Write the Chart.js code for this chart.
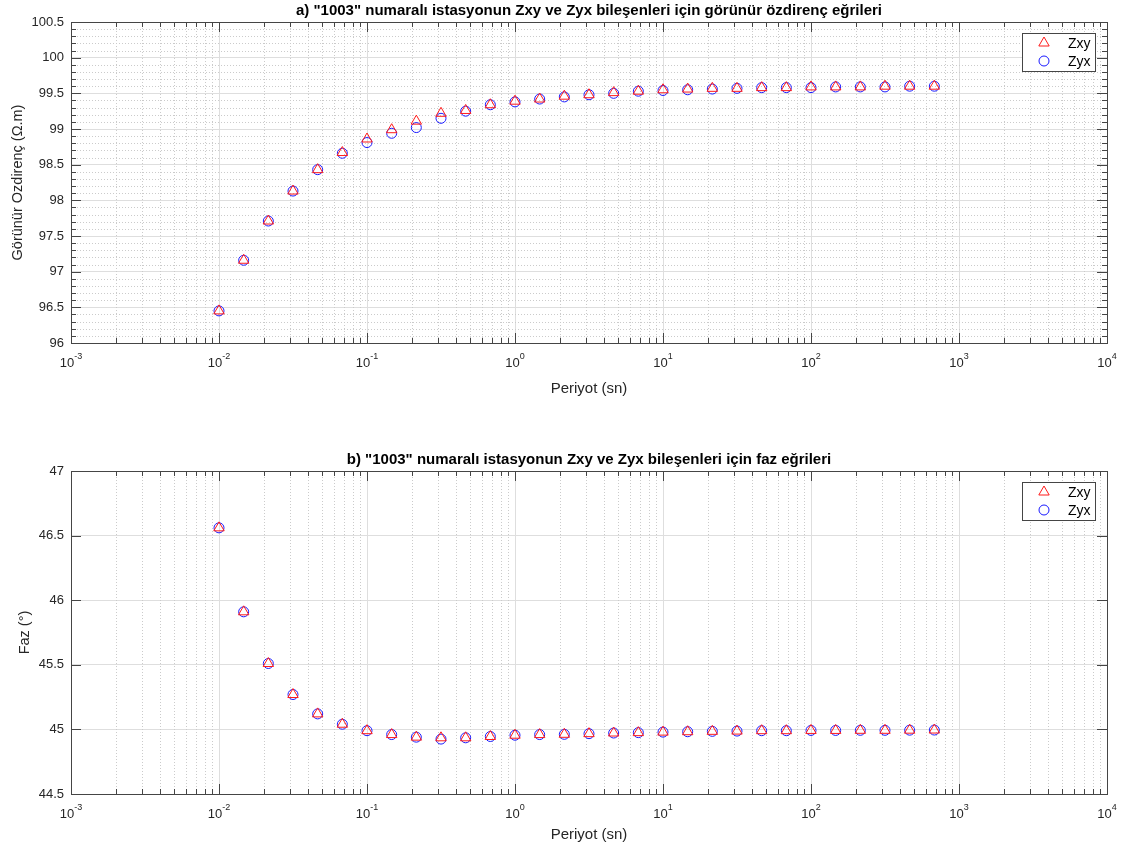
<!DOCTYPE html>
<html lang="tr">
<head>
<meta charset="utf-8">
<title>1003 istasyonu - görünür özdirenç ve faz eğrileri</title>
<script src="https://cdn.jsdelivr.net/npm/chart.js@4.4.1/dist/chart.umd.min.js"></script>
<style>
    html, body { margin: 0; padding: 0; background: #fff; }
    #sayfa { position: relative; width: 1135px; height: 850px; overflow: hidden; }
    .grafik { position: absolute; left: 0; width: 1135px; }
    #g1 { top: 0; height: 400px; }
    #g2 { top: 420px; height: 430px; }
</style>
</head>
<body>
<div id="sayfa">
    <div class="grafik" id="g1"><canvas id="chartOzdirenc"></canvas></div>
    <div class="grafik" id="g2"><canvas id="chartFaz"></canvas></div>
</div>
<script>
// ---- veriler ----
// periyot (sn)
const periyot = [0.01, 0.01468, 0.02154, 0.03162, 0.04642, 0.06813, 0.1, 0.1468, 0.2154, 0.3162,
                 0.4642, 0.6813, 1, 1.468, 2.154, 3.162, 4.642, 6.813, 10, 14.68,
                 21.54, 31.62, 46.42, 68.13, 100, 146.8, 215.4, 316.2, 464.2, 681.3];

// görünür özdirenç (ohm.m)
const rhoZxy = [96.45, 97.16, 97.71, 98.13, 98.43, 98.67, 98.86, 98.99, 99.11, 99.22,
                99.26, 99.34, 99.39, 99.42, 99.46, 99.48, 99.51, 99.53, 99.55, 99.56,
                99.57, 99.57, 99.58, 99.58, 99.59, 99.59, 99.59, 99.60, 99.60, 99.60];
const rhoZyx = [96.45, 97.16, 97.71, 98.13, 98.43, 98.66, 98.81, 98.94, 99.02, 99.15,
                99.25, 99.34, 99.38, 99.42, 99.45, 99.48, 99.50, 99.53, 99.54, 99.55,
                99.56, 99.57, 99.58, 99.58, 99.58, 99.59, 99.59, 99.59, 99.60, 99.60];

// faz (derece)
const fazZxy = [46.56, 45.91, 45.51, 45.27, 45.12, 45.04, 44.99, 44.96, 44.94, 44.935,
                44.935, 44.945, 44.955, 44.96, 44.962, 44.967, 44.972, 44.975, 44.979, 44.982,
                44.985, 44.987, 44.99, 44.99, 44.992, 44.992, 44.993, 44.993, 44.994, 44.995];
const fazZyx = [46.56, 45.91, 45.51, 45.27, 45.12, 45.04, 44.99, 44.96, 44.94, 44.925,
                44.935, 44.945, 44.955, 44.96, 44.962, 44.967, 44.972, 44.975, 44.979, 44.982,
                44.985, 44.987, 44.99, 44.99, 44.992, 44.992, 44.993, 44.993, 44.994, 44.995];

// x ekseni etiketleri: 10 tabanı ve üsleri
const xUsler = [-3, -2, -1, 0, 1, 2, 3, 4];
const xUsEtiket = ['-3', '-2', '-1', '0', '1', '2', '3', '4'];

const FONT = "'Liberation Sans', Arial, Helvetica, sans-serif";
const EKSEN = '#262626';
const CERCEVE = '#454545';
const ANA_IZGARA = '#dedede';
const ARA_IZGARA = '#cbcbcb';

Chart.defaults.font.family = FONT;
Chart.defaults.color = EKSEN;

function onunKuvveti(v) {
    const l = Math.log10(v);
    return Math.abs(l - Math.round(l)) < 1e-6;
}

// noktalı ara ızgara, çerçeve, içe dönük çentikler ve 10^n etiketleri
const eksenKutusu = {
    id: 'eksenKutusu',
    beforeDatasetsDraw(chart, args, opts) {
        const { ctx, chartArea: a, scales: { x, y } } = chart;
        const xAra = [];
        for (let e = Math.round(Math.log10(x.min)); e < Math.round(Math.log10(x.max)); e++) {
            for (let m = 2; m <= 9; m++) xAra.push(m * Math.pow(10, e));
        }
        const yAra = [];
        if (opts.yAra) {
            for (let v = y.min + opts.yAra; v < y.max - 1e-6; v += opts.yAra) {
                if (Math.abs(v * 2 - Math.round(v * 2)) > 1e-6) yAra.push(v);
            }
        }
        ctx.save();
        ctx.strokeStyle = ARA_IZGARA;
        ctx.lineWidth = 1;
        ctx.setLineDash([1, 2]);
        ctx.beginPath();
        xAra.forEach(v => {
            const px = Math.round(x.getPixelForValue(v)) + 0.5;
            ctx.moveTo(px, a.top); ctx.lineTo(px, a.bottom);
        });
        yAra.forEach(v => {
            const py = Math.round(y.getPixelForValue(v)) + 0.5;
            ctx.moveTo(a.left, py); ctx.lineTo(a.right, py);
        });
        ctx.stroke();
        ctx.setLineDash([]);

        // çentikler
        ctx.strokeStyle = CERCEVE;
        ctx.beginPath();
        const xCentik = (px, len) => {
            ctx.moveTo(px, a.bottom); ctx.lineTo(px, a.bottom - len);
            ctx.moveTo(px, a.top); ctx.lineTo(px, a.top + len);
        };
        const yCentik = (py, len) => {
            ctx.moveTo(a.left, py); ctx.lineTo(a.left + len, py);
            ctx.moveTo(a.right, py); ctx.lineTo(a.right - len, py);
        };
        xUsler.forEach(u => xCentik(Math.round(x.getPixelForValue(Math.pow(10, u))) + 0.5, 10));
        xAra.forEach(v => xCentik(Math.round(x.getPixelForValue(v)) + 0.5, 5));
        y.ticks.forEach(t => yCentik(Math.round(y.getPixelForValue(t.value)) + 0.5, 10));
        yAra.forEach(v => yCentik(Math.round(y.getPixelForValue(v)) + 0.5, 5));
        ctx.stroke();

        ctx.strokeRect(Math.round(a.left) + 0.5, Math.round(a.top) + 0.5,
                       Math.round(a.right - a.left), Math.round(a.bottom - a.top));

        // x etiketleri: "10" ve üst simge
        ctx.fillStyle = EKSEN;
        ctx.textBaseline = 'alphabetic';
        ctx.textAlign = 'left';
        const tabanFont = '13px ' + FONT;
        const usFont = '9px ' + FONT;
        xUsler.forEach((u, i) => {
            const px = x.getPixelForValue(Math.pow(10, u));
            ctx.font = tabanFont;
            const w1 = ctx.measureText('10').width;
            ctx.font = usFont;
            const w2 = ctx.measureText(xUsEtiket[i]).width;
            const x0 = px - (w1 + w2) / 2;
            ctx.font = tabanFont;
            ctx.fillText('10', x0, a.bottom + 24);
            ctx.font = usFont;
            ctx.fillText(xUsEtiket[i], x0 + w1, a.bottom + 16);
        });
        ctx.restore();
    }
};

// sağ üst köşedeki çerçeveli lejant
const kutuLejant = {
    id: 'kutuLejant',
    afterDatasetsDraw(chart) {
        const { ctx, chartArea: a } = chart;
        const w = 73, h = 38;
        const x0 = Math.round(a.right) - 12 - w;
        const y0 = Math.round(a.top) + 11;
        ctx.save();
        ctx.fillStyle = '#fff';
        ctx.fillRect(x0, y0, w, h);
        ctx.strokeStyle = CERCEVE;
        ctx.lineWidth = 1;
        ctx.strokeRect(x0 + 0.5, y0 + 0.5, w, h);
        chart.data.datasets.forEach((ds, i) => {
            const cy = y0 + 10 + i * 18;
            ctx.strokeStyle = ds.borderColor;
            ctx.fillStyle = 'rgba(0,0,0,0)';
            ctx.lineWidth = 1;
            Chart.helpers.drawPoint(ctx, { pointStyle: ds.pointStyle, radius: ds.pointRadius, rotation: 0, borderWidth: 1 }, x0 + 22, cy);
            ctx.fillStyle = '#000';
            ctx.font = '14px ' + FONT;
            ctx.textBaseline = 'middle';
            ctx.textAlign = 'left';
            ctx.fillText(ds.label, x0 + 46, cy + 1);
        });
        ctx.restore();
    }
};

function grafikCiz(canvasId, baslik, yBaslik, zxy, zyx, ay) {
    const ctx = document.getElementById(canvasId).getContext('2d');
    return new Chart(ctx, {
        type: 'scatter',
        data: {
            datasets: [{
                label: 'Zxy',
                data: periyot.map((p, i) => ({ x: p, y: zxy[i] })),
                pointStyle: 'triangle',
                pointRadius: 6,
                borderColor: '#ff1a1a',
                backgroundColor: 'rgba(0,0,0,0)',
                borderWidth: 1,
                showLine: false
            }, {
                label: 'Zyx',
                data: periyot.map((p, i) => ({ x: p, y: zyx[i] })),
                pointStyle: 'circle',
                pointRadius: 5,
                borderColor: '#1a1aff',
                backgroundColor: 'rgba(0,0,0,0)',
                borderWidth: 1,
                showLine: false
            }]
        },
        plugins: [eksenKutusu, kutuLejant],
        options: {
            responsive: true,
            maintainAspectRatio: false,
            animation: false,
            events: [],
            layout: { padding: { left: 0, right: 28, top: 0, bottom: 0 } },
            plugins: {
                legend: { display: false },
                tooltip: { enabled: false },
                title: {
                    display: true,
                    text: baslik,
                    fullSize: false,
                    color: '#000',
                    font: { size: 15, weight: 'bold', family: FONT },
                    padding: ay.baslikPad
                },
                eksenKutusu: { yAra: ay.yAra }
            },
            scales: {
                x: {
                    type: 'logarithmic',
                    min: 1e-3,
                    max: 1e4,
                    afterFit: s => { s.height = ay.xYukseklik; },
                    grid: {
                        drawTicks: false,
                        color: c => (c.tick && onunKuvveti(c.tick.value)) ? ANA_IZGARA : 'rgba(0,0,0,0)'
                    },
                    border: { display: false },
                    ticks: { display: false, autoSkip: false },
                    title: {
                        display: true,
                        text: 'Periyot (sn)',
                        color: EKSEN,
                        font: { size: 15, family: FONT },
                        padding: { top: 0, bottom: ay.xBaslikPad }
                    }
                },
                y: {
                    min: ay.yMin,
                    max: ay.yMax,
                    afterFit: s => { s.width = 71; },
                    grid: { drawTicks: false, color: ANA_IZGARA },
                    border: { display: false },
                    ticks: {
                        stepSize: 0.5,
                        padding: 7,
                        color: EKSEN,
                        font: { size: 13, family: FONT },
                        callback: v => String(+v.toFixed(1))
                    },
                    title: {
                        display: true,
                        text: yBaslik,
                        color: EKSEN,
                        font: { size: 14.5, family: FONT },
                        padding: { top: ay.yBaslikPad, bottom: 0 }
                    }
                }
            }
        }
    });
}

document.addEventListener('DOMContentLoaded', function() {
    grafikCiz('chartOzdirenc',
        'a) "1003" numaralı istasyonun Zxy ve Zyx bileşenleri için görünür özdirenç eğrileri',
        'Görünür Ozdirenç (Ω.m)', rhoZxy, rhoZyx,
        { yMin: 96, yMax: 100.5, yAra: 0.1, baslikPad: { top: 1.4, bottom: 2.6 },
          xYukseklik: 57, xBaslikPad: 2.5, yBaslikPad: 9.5 });

    grafikCiz('chartFaz',
        'b) "1003" numaralı istasyonun Zxy ve Zyx bileşenleri için faz eğrileri',
        'Faz (°)', fazZxy, fazZyx,
        { yMin: 44.5, yMax: 47, yAra: 0, baslikPad: { top: 30.4, bottom: 2.6 },
          xYukseklik: 56, xBaslikPad: 6.5, yBaslikPad: 16.5 });
});
</script>
</body>
</html>
